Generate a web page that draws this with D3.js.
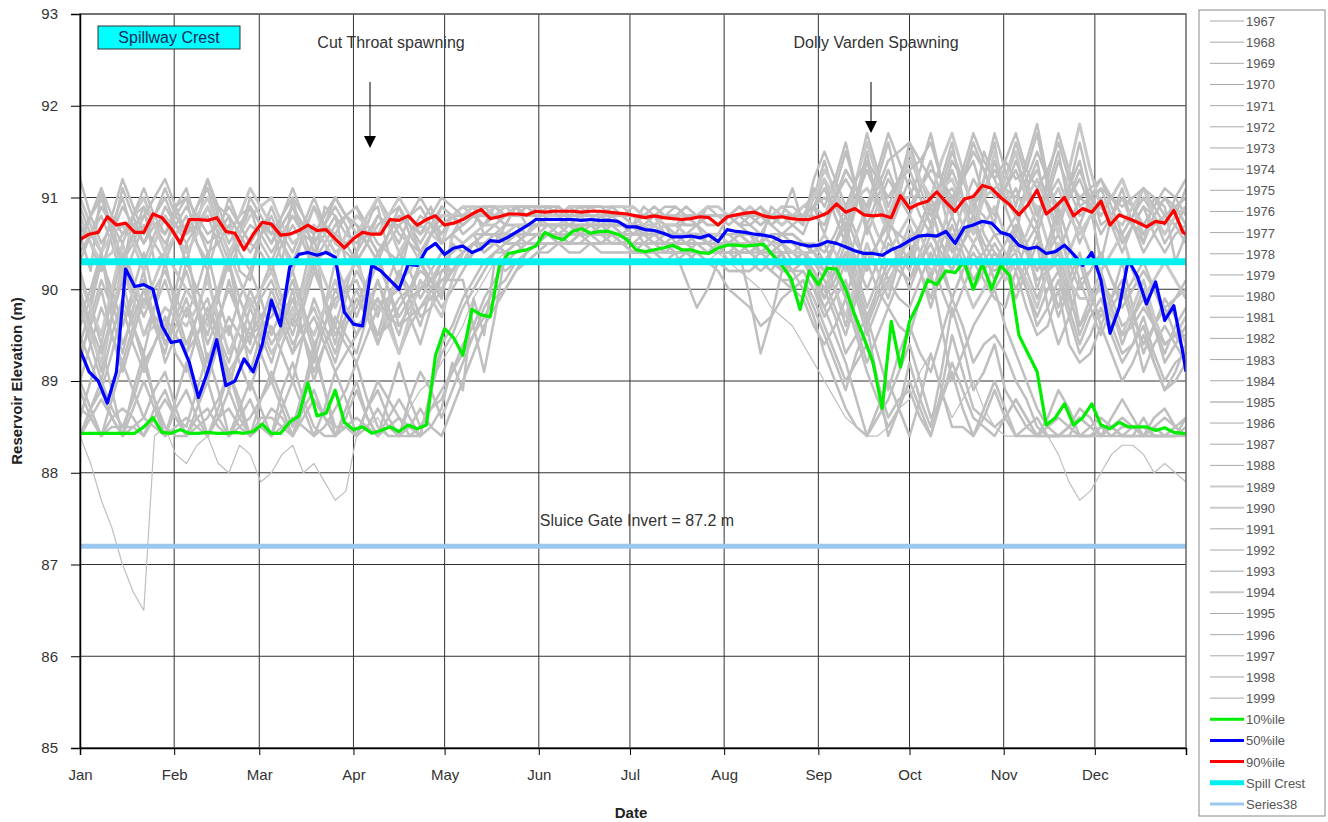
<!DOCTYPE html>
<html><head><meta charset="utf-8">
<script src="https://cdn.jsdelivr.net/npm/d3@7"></script>
<style>
body{margin:0;background:#fff;}
svg text{font-family:"Liberation Sans",Arial,sans-serif;}
</style>
</head><body>
<svg id="chart" width="1328" height="822"></svg>
<script>
// ---------- categories / ticks ----------
const monthLabels = ["Jan","Feb","Mar","Apr","May","Jun","Jul","Aug","Sep","Oct","Nov","Dec"];
const monthStartDays = [0,31,59,90,120,151,181,212,243,273,304,334];
const yTickValues = [85,86,87,88,89,90,91,92,93];
const weekDays = [0,7,14,21,28,35,42,49,56,63,70,77,84,91,98,105,112,119,126,133,140,147,154,161,168,175,182,189,196,203,210,217,224,231,238,245,252,259,266,273,280,287,294,301,308,315,322,329,336,343,350,357,364];
const midOffset = 3.5; // mid-week readings sit 3.5 days after each weekly reading
const pctDays = d3.range(0, 364, 3).concat([364]);

// ---------- yearly series: weekly readings ----------
const y1967 = [90.6,91.1,90.2,90.9,90.4, 91.0,90.3,90.8,90.1, 90.7,91.0,90.2,90.8, 90.4,90.9,90.1,90.7,90.5, 90.8,90.6,90.8,90.7, 90.8,90.9,90.8,90.8, 90.7,90.8,90.6,90.7,90.6, 90.7,90.5,90.8,90.6, 91.2,90.5,91.5,90.6, 91.3,90.7,91.6,90.8,91.2, 90.6,91.4,90.4,91.0, 90.3,91.1,90.5,90.9,90.6];
const y1968 = [88.4,87.7,87.0,86.5,88.5, 88.1,88.4,88.0,88.2, 88.0,88.3,88.1,87.7, 88.4,88.6,88.4,88.9,89.2, 89.6,90.1,90.4,90.5, 90.6,90.7,90.6,90.5, 90.5,90.4,90.5,90.3,90.4, 90.2,90.0,89.7,89.4, 89.0,88.6,88.4,88.5, 88.8,89.3,88.6,89.0,88.5, 88.4,88.6,88.2,87.7, 88.0,88.3,88.2,88.1,87.9];
const y1969 = [89.6,90.4,89.3,90.2,89.5, 90.5,89.2,90.1,89.4, 90.3,89.6,90.6,89.4, 90.2,89.7,90.4,89.9,90.3, 90.5,90.4,90.7,90.6, 90.7,90.8,90.7,90.6, 90.7,90.6,90.5,90.6,90.5, 90.6,90.4,90.5,90.3, 90.0,90.6,89.8,90.5, 90.2,90.9,90.3,91.0,90.4, 90.7,90.0,90.8,89.6, 90.2,89.4,90.0,89.2,89.6];
const y1970 = [88.4,88.9,88.4,89.3,88.5, 88.4,89.0,88.4,88.8, 88.4,89.2,88.5,88.4, 89.0,88.4,88.6,88.4,89.3, 89.8,90.2,90.5,90.4, 90.6,90.5,90.7,90.6, 90.6,90.5,90.6,90.4,90.5, 90.4,90.3,90.4,90.1, 89.5,88.9,89.6,88.4, 89.2,88.5,89.8,88.9,89.4, 88.7,88.4,88.9,88.4, 88.4,88.8,88.4,88.4,88.6];
const y1971 = [91.2,90.5,91.0,90.3,90.9, 90.6,91.1,90.4,90.9, 90.3,90.8,90.5,91.0, 90.6,90.3,90.9,90.4,90.8, 90.6,90.9,90.7,90.8, 90.9,90.8,90.9,90.8, 90.8,90.7,90.9,90.7,90.8, 90.8,90.6,90.9,90.7, 91.4,90.6,91.7,90.9, 91.5,90.8,91.3,90.6,91.7, 90.9,91.8,90.7,91.3, 90.8,91.2,90.5,91.0,90.7];
const y1972 = [90.0,89.1,90.3,89.5,90.1, 89.3,90.2,88.9,89.8, 89.2,90.0,89.0,89.7, 89.3,90.1,89.5,90.3,89.8, 90.2,90.5,90.4,90.6, 90.7,90.6,90.7,90.8, 90.7,90.8,90.6,90.7,90.5, 90.5,90.6,90.4,90.5, 90.3,89.6,90.4,89.9, 90.6,90.1,90.8,90.3,90.6, 90.2,90.7,89.8,90.4, 89.6,90.3,89.3,89.9,89.4];
const y1973 = [88.6,89.4,88.4,89.0,88.4, 89.2,88.4,88.9,88.4, 89.1,88.5,89.4,88.4, 88.9,88.4,89.2,88.5,88.8, 89.4,89.9,90.3,90.5, 90.5,90.6,90.5,90.6, 90.5,90.6,90.4,90.5,90.4, 90.4,90.5,90.3,90.2, 89.7,90.1,89.2,89.8, 89.5,90.2,89.0,89.6,90.0, 89.3,88.7,88.4,88.6, 88.4,88.5,88.4,88.7,88.4];
const y1974 = [90.8,90.2,91.1,90.5,90.8, 90.3,91.2,90.6,90.9, 90.5,90.9,90.3,90.7, 90.9,90.4,90.7,90.3,90.9, 90.7,90.8,90.8,90.9, 90.8,90.8,90.9,90.8, 90.9,90.8,90.8,90.7,90.8, 90.7,90.8,90.7,90.9, 90.6,91.3,90.8,91.6, 90.9,91.4,90.5,91.2,90.8, 91.6,90.8,91.2,90.5, 91.0,90.4,90.9,90.6,91.1];
const y1975 = [89.2,90.1,89.6,90.4,89.4, 90.0,89.5,90.3,89.1, 89.8,89.3,90.2,89.6, 90.4,89.4,89.9,90.2,90.0, 90.4,90.6,90.5,90.7, 90.7,90.7,90.8,90.7, 90.6,90.7,90.6,90.5,90.6, 90.5,90.4,90.6,90.4, 90.5,89.9,90.7,90.1, 90.4,90.9,90.2,90.7,90.1, 90.5,89.9,90.4,89.5, 90.1,89.6,89.9,89.3,89.8];
const y1976 = [89.8,89.0,89.9,89.3,90.3, 89.4,89.9,89.0,89.6, 89.0,89.7,89.2,90.0, 89.5,90.1,89.3,89.8,90.1, 90.3,90.5,90.6,90.6, 90.6,90.7,90.7,90.6, 90.6,90.5,90.6,90.6,90.4, 90.4,90.5,90.2,90.4, 89.9,90.4,89.6,90.2, 90.5,89.8,90.6,90.0,90.4, 89.9,90.5,89.4,90.1, 89.5,90.0,89.1,89.6,89.2];
const y1977 = [88.4,88.8,88.4,88.6,89.1, 88.4,88.7,88.4,89.0, 88.4,88.6,88.4,89.1, 88.4,88.7,88.4,88.5,88.9, 89.3,89.7,90.0,90.3, 90.5,90.4,90.5,90.6, 90.5,90.4,90.3,90.4,90.4, 90.3,90.2,90.4,90.0, 89.3,88.7,88.4,88.8, 89.4,88.6,89.1,88.4,88.9, 88.4,88.6,88.4,88.4, 88.5,88.4,88.4,88.6,88.4];
const y1978 = [90.5,91.0,90.3,90.8,90.6, 91.1,90.4,90.7,90.2, 90.9,90.4,91.0,90.5, 90.3,90.8,90.5,91.0,90.6, 90.7,90.9,90.8,90.8, 90.9,90.8,90.8,90.9, 90.8,90.8,90.7,90.8,90.7, 90.8,90.9,90.7,90.8, 91.1,90.5,91.4,90.7, 91.6,90.9,91.1,90.7,91.4, 90.8,91.3,90.6,91.6, 90.7,91.0,90.4,90.8,90.5];
const y1979 = [89.0,89.8,89.2,90.0,89.4, 89.9,89.1,89.6,88.9, 89.6,89.0,89.9,89.3, 90.0,89.4,90.2,89.6,90.3, 90.4,90.6,90.5,90.6, 90.7,90.6,90.6,90.7, 90.6,90.5,90.6,90.5,90.4, 90.5,90.3,90.5,90.4, 90.0,90.5,89.7,90.3, 90.1,90.7,89.9,90.5,90.2, 90.4,89.6,90.1,89.3, 89.8,89.2,89.7,89.0,89.3];
const y1980 = [90.9,90.4,91.2,90.6,91.0, 90.5,90.9,90.3,91.0, 90.6,91.1,90.4,90.8, 90.5,91.0,90.6,90.4,90.8, 90.9,90.7,90.8,90.9, 90.8,90.9,90.8,90.8, 90.8,90.9,90.8,90.8,90.7, 90.8,90.7,90.8,90.9, 90.8,91.5,90.6,91.2, 91.0,91.7,90.8,91.5,91.0, 91.3,90.7,91.7,90.9, 91.2,90.6,91.0,90.5,90.9];
const y1981 = [90.2,89.4,90.4,89.7,90.2, 89.7,90.4,89.5,90.2, 89.5,90.1,89.3,90.3, 89.7,90.3,89.6,90.0,90.4, 90.5,90.6,90.7,90.7, 90.8,90.7,90.7,90.8, 90.7,90.6,90.7,90.6,90.6, 90.6,90.5,90.6,90.5, 90.4,90.9,90.2,90.8, 90.3,91.0,90.5,90.9,90.6, 90.8,90.2,90.6,90.0, 90.4,89.8,90.2,89.7,90.0];
const y1982 = [89.0,88.4,88.7,88.4,88.9, 88.5,89.3,88.4,88.6, 89.0,88.4,88.8,88.5, 88.4,89.0,88.6,88.4,89.4, 89.9,90.3,90.4,90.6, 90.6,90.5,90.6,90.5, 90.4,90.5,90.4,90.3,90.2, 89.9,89.6,89.9,90.1, 89.6,89.0,89.4,88.6, 88.9,88.4,89.2,88.6,88.4, 88.8,88.4,88.4,88.6, 88.4,88.6,88.4,88.4,88.5];
const y1983 = [90.7,90.2,90.9,90.5,91.1, 90.6,90.8,90.2,90.7, 90.4,90.8,90.6,91.0, 90.7,90.4,90.8,90.5,90.9, 90.8,90.7,90.9,90.8, 90.8,90.8,90.9,90.8, 90.7,90.8,90.7,90.7,90.8, 90.7,90.8,90.6,90.8, 91.0,90.7,91.3,90.6, 91.2,90.7,91.5,90.9,91.3, 91.0,91.5,90.8,91.2, 90.6,91.0,90.7,91.1,90.8];
const y1984 = [89.4,90.3,89.6,90.1,89.2, 89.8,89.0,89.7,89.3, 90.0,89.4,89.8,89.2, 89.9,89.5,90.2,89.7,90.0, 90.3,90.5,90.4,90.6, 90.6,90.7,90.6,90.6, 90.6,90.5,90.5,90.6,90.4, 90.4,90.5,90.3,90.4, 90.1,89.5,90.3,89.8, 90.4,89.9,90.7,90.1,90.5, 90.0,90.6,89.7,90.3, 89.7,90.1,89.4,89.8,89.3];
const y1985 = [90.1,89.5,90.5,89.8,90.4, 90.0,89.6,90.4,89.8, 90.2,89.7,90.4,89.8, 90.3,89.8,90.1,90.4,89.9, 90.5,90.7,90.6,90.7, 90.7,90.8,90.7,90.7, 90.7,90.6,90.7,90.6,90.6, 90.6,90.4,90.6,90.5, 90.6,90.2,90.9,90.4, 90.8,90.3,91.0,90.5,90.9, 90.4,90.9,90.2,90.7, 90.2,90.6,89.9,90.3,89.9];
const y1986 = [88.7,88.4,89.2,88.6,88.4, 88.9,88.4,88.7,88.4, 88.6,88.4,89.3,88.5, 88.4,88.9,88.4,89.1,88.6, 89.2,89.8,90.1,90.4, 90.5,90.6,90.6,90.5, 90.5,90.4,90.5,90.4,90.3, 90.3,90.4,90.2,90.3, 90.0,89.3,89.7,88.9, 89.6,89.1,89.9,89.2,89.5, 89.0,88.5,88.4,88.7, 88.4,88.4,88.6,88.4,88.4];
const y1987 = [90.4,90.8,90.1,90.7,90.3, 90.8,90.2,91.0,90.5, 90.2,90.7,90.3,90.6, 90.9,90.5,90.3,90.8,90.6, 90.8,90.9,90.8,90.9, 90.9,90.8,90.8,90.9, 90.8,90.8,90.8,90.7,90.8, 90.8,90.7,90.9,90.8, 90.7,91.3,90.9,91.7, 91.1,90.6,91.4,90.9,91.6, 91.1,90.6,91.4,90.8, 91.1,90.5,90.9,90.4,90.7];
const y1988 = [89.5,88.9,89.8,89.1,89.7, 89.1,89.8,89.2,90.0, 89.4,89.9,89.1,89.6, 89.2,89.8,90.0,89.4,90.2, 90.3,90.4,90.6,90.5, 90.6,90.6,90.7,90.7, 90.6,90.6,90.5,90.5,90.5, 90.4,90.5,90.4,90.3, 89.8,90.3,89.5,90.1, 89.8,90.4,89.7,90.3,89.9, 90.2,89.5,90.0,89.2, 89.6,89.0,89.5,88.9,89.2];
const y1989 = [91.0,90.4,90.7,90.2,90.8, 90.4,90.9,90.6,91.1, 90.7,90.2,90.9,90.4, 90.6,91.0,90.4,90.7,90.5, 90.8,90.8,90.9,90.9, 90.8,90.9,90.9,90.8, 90.8,90.7,90.8,90.8,90.8, 90.9,90.8,90.7,90.9, 91.3,90.8,91.1,90.6, 91.5,91.0,91.7,90.8,91.1, 91.5,90.9,91.1,90.6, 90.9,91.2,90.6,90.8,91.0];
const y1990 = [89.9,89.2,90.2,89.5,89.8, 89.6,90.1,89.3,89.9, 89.3,89.8,89.5,90.1, 89.6,89.9,89.3,90.1,89.7, 90.4,90.5,90.6,90.6, 90.7,90.7,90.6,90.7, 90.6,90.7,90.6,90.6,90.5, 90.5,90.6,90.5,90.4, 90.2,89.7,90.5,90.0, 90.7,90.2,90.5,89.8,90.3, 90.3,89.8,90.5,89.9, 90.0,89.5,90.1,89.4,89.7];
const y1991 = [88.4,89.0,88.5,88.4,88.8, 88.4,88.6,89.1,88.4, 88.7,88.4,88.9,88.4, 88.6,88.4,88.8,88.4,88.7, 88.9,89.5,90.2,90.3, 90.4,90.5,90.5,90.4, 90.4,90.3,90.4,90.3,90.3, 90.2,90.3,90.1,90.2, 89.8,89.2,88.4,89.0, 88.4,89.3,88.5,88.4,89.0, 88.4,88.4,88.6,88.4, 88.5,88.4,88.4,88.4,88.6];
const y1992 = [90.6,91.0,90.3,90.9,90.5, 90.9,90.5,90.8,90.4, 90.8,90.3,90.9,90.6, 90.3,90.7,90.9,90.4,90.7, 90.8,90.8,90.7,90.9, 90.9,90.9,90.8,90.8, 90.8,90.8,90.8,90.8,90.7, 90.8,90.8,90.8,90.7, 90.9,91.6,90.7,91.3, 90.8,91.3,91.0,91.4,90.7, 91.2,91.7,90.9,91.4, 90.9,90.6,91.1,90.7,91.2];
const y1993 = [89.3,90.0,89.1,89.9,89.6, 90.2,89.4,90.0,89.5, 89.7,90.2,89.4,89.9, 90.1,89.5,89.8,90.3,89.9, 90.4,90.6,90.5,90.6, 90.6,90.6,90.7,90.6, 90.7,90.6,90.5,90.6,90.4, 90.4,90.4,90.5,90.3, 90.3,90.7,90.0,90.6, 90.0,90.6,90.2,90.8,90.1, 90.6,90.1,90.3,89.6, 90.1,89.5,89.8,89.4,89.5];
const y1994 = [90.8,90.3,90.6,91.0,90.4, 90.7,91.0,90.4,90.8, 91.0,90.5,90.7,90.3, 90.8,90.6,91.0,90.6,90.8, 90.9,90.8,90.9,90.8, 90.8,90.9,90.8,90.9, 90.9,90.8,90.8,90.8,90.9, 90.8,90.8,90.9,90.8, 91.2,90.8,91.6,90.8, 91.4,91.0,91.2,90.6,91.5, 90.8,91.2,90.6,91.8, 90.9,90.7,91.1,90.6,90.9];
const y1995 = [89.7,90.4,89.4,90.0,89.3, 90.3,89.7,90.3,89.6, 90.1,89.5,90.3,89.5, 89.8,90.4,89.7,90.0,90.2, 90.4,90.5,90.5,90.7, 90.7,90.7,90.6,90.7, 90.6,90.6,90.6,90.5,90.5, 90.6,90.4,90.6,90.5, 90.2,90.8,90.3,90.7, 90.5,91.0,90.4,90.8,90.3, 90.7,90.2,90.9,90.1, 90.4,89.9,90.3,89.8,90.1];
const y1996 = [88.9,88.4,88.5,89.2,88.4, 88.6,88.4,89.1,88.4, 88.4,89.0,88.4,88.7, 89.2,88.5,88.4,88.7,88.4, 89.0,89.6,90.0,90.4, 90.6,90.5,90.6,90.5, 90.4,90.4,90.3,90.4,90.3, 90.2,90.3,90.1,89.9, 89.4,89.9,89.1,88.5, 89.0,88.4,89.5,88.7,88.5, 88.8,88.4,88.4,88.4, 88.6,88.4,88.5,88.4,88.4];
const y1997 = [90.3,90.9,90.5,91.1,90.6, 91.0,90.6,90.9,90.5, 90.6,90.9,90.5,90.9, 90.4,90.8,90.7,90.9,90.5, 90.7,90.8,90.8,90.8, 90.9,90.8,90.9,90.9, 90.8,90.9,90.8,90.8,90.8, 90.9,90.8,90.8,90.8, 90.8,91.2,90.9,91.4, 91.6,91.2,90.8,91.6,91.0, 91.4,90.8,91.5,90.7, 91.1,90.8,90.6,91.0,90.6];
const y1998 = [89.9,89.3,90.1,89.2,89.7, 89.3,89.7,89.1,89.5, 89.9,89.3,89.7,89.1, 89.5,89.9,89.6,89.8,90.1, 90.1,89.1,90.4,90.5, 90.6,90.5,90.6,90.6, 90.5,90.5,90.4,89.8,90.3, 90.4,89.3,90.2,90.3, 89.9,90.4,89.6,90.3, 90.1,90.5,89.9,90.4,90.0, 90.3,89.7,90.2,89.4, 89.9,89.3,89.6,88.9,89.4];
const y1999 = [90.5,91.1,90.6,90.8,91.2, 90.6,91.2,90.5,90.9, 90.5,91.0,90.6,91.0, 90.7,90.3,90.8,90.6,91.0, 90.8,90.9,90.8,90.9, 90.9,90.8,90.8,90.8, 90.8,90.8,90.9,90.8,90.8, 90.8,90.9,90.8,90.7, 91.5,90.9,91.4,91.0, 91.3,91.6,90.9,91.7,91.2, 91.7,91.1,91.6,91.0, 91.2,90.9,91.1,90.8,91.0];

// ---------- yearly series: mid-week readings ----------
const m1967 = [90.2,90.6,90.8,90.3,90.9, 90.5,90.9,90.2,90.6, 90.3,90.5,90.9,90.3, 90.8,90.4,90.6,90.9, 90.6,90.9,90.7,90.9, 90.7,90.8,90.9,90.7,90.8, 90.9,90.6,90.8,90.5, 90.8,90.6,90.9,90.7,90.9, 90.8,91.0,90.9,91.2, 91.0,91.2,91.0,91.5, 90.9,91.1,90.8,90.7,90.9, 90.8,90.7,91.0,90.3];
const m1968 = [88.1,87.4,86.7,88.4,88.2, 88.3,88.1,88.3,87.9, 88.2,88.0,87.9,87.8, 88.5,88.4,88.7,89.0, 89.4,89.9,90.3,90.5, 90.6,90.6,90.7,90.5,90.6, 90.4,90.5,90.4,90.3, 90.3,90.1,89.8,89.6,89.2, 88.8,88.5,88.4,88.7, 89.1,88.9,88.8,88.7, 88.4,88.5,88.4,87.9,87.8, 88.2,88.3,88.0,88.0];
const m1969 = [89.9,89.7,89.8,89.6,90.0, 89.8,89.6,89.7,90.0, 89.9,90.1,89.8,89.9, 90.0,90.1,90.2,90.1, 90.4,90.6,90.5,90.7, 90.8,90.7,90.6,90.7,90.6, 90.5,90.7,90.6,90.5, 90.5,90.6,90.4,90.4,90.2, 90.3,90.2,90.1,90.4, 90.6,90.5,90.7,90.6, 90.3,90.5,90.4,90.2,89.9, 89.8,89.7,89.6,89.4];
const m1970 = [88.7,88.6,88.9,88.8,88.4, 88.7,88.6,88.6,88.5, 88.9,88.8,88.4,88.7, 88.6,88.5,88.4,88.9, 89.5,90.0,90.4,90.5, 90.5,90.6,90.6,90.7,90.5, 90.6,90.5,90.5,90.4, 90.3,90.4,90.2,90.0,89.8, 89.2,89.3,89.0,88.7, 88.8,89.1,89.4,89.1, 88.9,88.5,88.6,88.7,88.4, 88.6,88.6,88.5,88.4];
const m1971 = [90.8,90.7,90.6,90.6,90.7, 90.9,90.7,90.6,90.5, 90.6,90.6,90.7,90.8, 90.5,90.6,90.7,90.6, 90.8,90.7,90.8,90.9, 90.9,90.8,90.9,90.8,90.8, 90.8,90.8,90.8,90.9, 90.7,90.7,90.8,90.8,91.0, 91.0,91.2,91.3,91.2, 91.1,91.0,91.0,91.2, 91.3,91.4,91.2,91.0,91.0, 91.0,90.9,90.8,90.9];
const m1972 = [89.6,89.7,89.9,89.8,89.7, 89.7,89.6,89.4,89.5, 89.6,89.5,89.4,89.5, 89.7,89.8,89.9,90.0, 90.0,90.4,90.5,90.5, 90.7,90.6,90.7,90.8,90.7, 90.8,90.7,90.6,90.6, 90.5,90.5,90.5,90.4,90.4, 90.0,90.0,90.2,90.3, 90.4,90.5,90.5,90.4, 90.4,90.5,90.2,90.1,90.0, 89.9,89.8,89.6,89.7];
const m1973 = [89.0,88.9,88.7,88.7,88.8, 88.8,88.6,88.6,88.8, 88.8,88.9,88.9,88.6, 88.6,88.8,88.8,88.7, 89.1,89.6,90.1,90.4, 90.5,90.5,90.6,90.5,90.5, 90.6,90.5,90.4,90.4, 90.5,90.4,90.4,90.2,90.0, 89.9,89.6,89.5,89.6, 89.9,89.6,89.3,89.8, 89.6,89.0,88.5,88.4,88.5, 88.4,88.5,88.6,88.5];
const m1974 = [90.5,90.6,90.8,90.7,90.6, 90.7,90.9,90.8,90.7, 90.7,90.6,90.5,90.8, 90.6,90.5,90.5,90.6, 90.8,90.8,90.9,90.8, 90.8,90.9,90.8,90.9,90.8, 90.8,90.8,90.7,90.8, 90.8,90.8,90.8,90.8,90.9, 91.0,91.1,91.2,91.1, 91.1,91.0,90.9,91.0, 91.2,91.2,91.0,90.9,90.8, 90.7,90.7,90.8,90.8];
const m1975 = [89.7,89.8,90.0,89.9,89.7, 89.8,89.9,89.7,89.5, 89.6,89.8,89.9,90.0, 89.9,89.7,90.0,90.1, 90.2,90.5,90.6,90.6, 90.7,90.7,90.8,90.8,90.7, 90.7,90.6,90.6,90.5, 90.6,90.5,90.5,90.5,90.4, 90.2,90.3,90.4,90.3, 90.6,90.5,90.5,90.4, 90.3,90.2,90.2,90.0,89.8, 89.9,89.7,89.6,89.6];
const m1976 = [89.4,89.5,89.6,89.8,89.8, 89.7,89.5,89.3,89.3, 89.4,89.5,89.6,89.8, 89.8,89.7,89.6,90.0, 90.2,90.4,90.6,90.6, 90.6,90.7,90.7,90.6,90.6, 90.6,90.6,90.6,90.5, 90.4,90.5,90.4,90.3,90.2, 90.2,90.0,89.9,90.4, 90.2,90.2,90.3,90.2, 90.2,90.2,89.8,89.7,89.8, 89.8,89.6,89.4,89.4];
const m1977 = [88.6,88.6,88.5,88.9,88.7, 88.6,88.5,88.7,88.7, 88.5,88.5,88.7,88.8, 88.5,88.5,88.4,88.7, 89.1,89.5,89.9,90.2, 90.4,90.5,90.4,90.5,90.5, 90.5,90.3,90.3,90.4, 90.4,90.3,90.3,90.2,89.7, 89.0,88.5,88.6,89.1, 89.0,88.8,88.7,88.6, 88.6,88.5,88.4,88.5,88.4, 88.4,88.4,88.5,88.5];
const m1978 = [90.8,90.7,90.5,90.7,90.9, 90.7,90.5,90.4,90.6, 90.6,90.7,90.7,90.4, 90.5,90.7,90.8,90.8, 90.8,90.8,90.9,90.8, 90.8,90.9,90.8,90.8,90.8, 90.7,90.7,90.8,90.7, 90.8,90.8,90.8,90.8,90.9, 90.8,90.9,91.0,91.1, 91.2,91.0,90.9,91.0, 91.0,91.1,91.0,91.1,91.1, 90.8,90.7,90.6,90.7];
const m1979 = [89.4,89.5,89.6,89.7,89.6, 89.5,89.4,89.2,89.3, 89.3,89.5,89.6,89.7, 89.7,89.8,89.9,90.0, 90.2,90.5,90.6,90.5, 90.6,90.7,90.6,90.6,90.6, 90.6,90.5,90.5,90.4, 90.4,90.4,90.4,90.4,90.2, 90.2,90.1,90.0,90.2, 90.4,90.3,90.2,90.3, 90.3,90.0,89.8,89.7,89.5, 89.5,89.4,89.3,89.2];
const m1980 = [90.6,90.8,90.9,90.8,90.7, 90.7,90.6,90.6,90.8, 90.8,90.8,90.6,90.6, 90.7,90.8,90.5,90.6, 90.8,90.8,90.9,90.8, 90.9,90.8,90.9,90.8,90.8, 90.8,90.8,90.9,90.8, 90.8,90.8,90.8,90.8,90.9, 91.1,91.1,90.9,91.0, 91.3,91.2,91.2,91.3, 91.1,91.0,91.2,91.3,91.0, 90.9,90.8,90.8,90.7];
const m1981 = [89.8,89.9,90.0,90.0,89.9, 90.0,89.9,89.9,89.9, 89.8,89.7,89.8,90.0, 90.0,90.0,89.8,90.2, 90.4,90.6,90.6,90.7, 90.7,90.8,90.7,90.7,90.8, 90.7,90.7,90.6,90.6, 90.6,90.6,90.6,90.5,90.5, 90.6,90.6,90.5,90.5, 90.7,90.7,90.7,90.8, 90.6,90.5,90.4,90.3,90.2, 90.1,90.0,90.0,89.9];
const m1982 = [88.7,88.6,88.6,88.7,88.6, 88.9,88.9,88.5,88.8, 88.7,88.6,88.6,88.5, 88.7,88.8,88.5,88.9, 89.6,90.1,90.4,90.5, 90.6,90.6,90.5,90.6,90.5, 90.5,90.4,90.4,90.3, 90.0,89.8,89.7,90.0,89.9, 89.3,89.2,89.0,88.8, 88.6,88.8,88.9,88.5, 88.6,88.6,88.4,88.5,88.5, 88.5,88.5,88.4,88.4];
const m1983 = [90.5,90.6,90.7,90.8,90.8, 90.7,90.5,90.5,90.6, 90.6,90.7,90.8,90.8, 90.6,90.6,90.7,90.7, 90.8,90.8,90.8,90.9, 90.8,90.8,90.8,90.9,90.8, 90.8,90.7,90.7,90.8, 90.8,90.7,90.7,90.7,90.9, 90.9,91.0,91.0,90.9, 91.0,91.1,91.2,91.1, 91.1,91.2,91.2,91.0,90.9, 90.8,90.9,90.9,91.0];
const m1984 = [89.8,90.0,89.9,89.7,89.5, 89.4,89.4,89.5,89.6, 89.7,89.6,89.5,89.6, 89.7,89.9,90.0,89.8, 90.2,90.4,90.5,90.5, 90.6,90.6,90.7,90.6,90.6, 90.6,90.5,90.5,90.5, 90.4,90.4,90.4,90.3,90.3, 89.8,89.9,90.0,90.1, 90.2,90.3,90.4,90.3, 90.3,90.3,90.1,90.0,89.9, 89.9,89.7,89.6,89.5];
const m1985 = [89.8,90.0,90.1,90.1,90.2, 89.8,90.0,90.1,90.0, 89.9,90.0,90.1,90.1, 90.0,89.9,90.2,90.2, 90.6,90.6,90.7,90.7, 90.7,90.7,90.8,90.7,90.7, 90.6,90.7,90.6,90.6, 90.5,90.5,90.5,90.6,90.4, 90.4,90.6,90.6,90.6, 90.6,90.6,90.7,90.7, 90.6,90.6,90.5,90.4,90.4, 90.4,90.2,90.1,90.1];
const m1986 = [88.6,88.8,88.9,88.5,88.7, 88.6,88.6,88.5,88.6, 88.5,88.8,88.9,88.5, 88.7,88.6,88.8,88.9, 88.9,89.5,90.0,90.3, 90.5,90.5,90.6,90.6,90.5, 90.5,90.4,90.5,90.3, 90.3,90.3,90.3,90.2,90.2, 89.7,89.5,89.3,89.3, 89.3,89.5,89.6,89.4, 89.3,88.8,88.4,88.5,88.6, 88.5,88.4,88.4,88.5];
const m1987 = [90.6,90.5,90.4,90.5,90.6, 90.5,90.6,90.7,90.4, 90.5,90.5,90.4,90.8, 90.7,90.4,90.6,90.7, 90.8,90.9,90.8,90.9, 90.8,90.9,90.8,90.8,90.9, 90.8,90.8,90.7,90.8, 90.8,90.8,90.8,90.9,90.8, 91.0,91.1,91.3,91.4, 90.8,91.0,91.2,91.2, 90.9,90.8,91.0,91.1,90.9, 90.8,90.7,90.6,90.6];
const m1988 = [89.2,89.3,89.4,89.4,89.3, 89.5,89.5,89.6,89.7, 89.6,89.5,89.4,89.4, 89.5,89.9,89.7,89.8, 90.2,90.5,90.5,90.6, 90.6,90.6,90.7,90.7,90.6, 90.6,90.5,90.5,90.5, 90.5,90.4,90.4,90.4,90.1, 90.0,89.9,89.8,89.9, 90.1,90.0,90.0,90.1, 89.8,89.8,89.6,89.4,89.3, 89.3,89.2,89.2,89.0];
const m1989 = [90.7,90.6,90.5,90.5,90.6, 90.6,90.7,90.8,90.9, 90.5,90.6,90.6,90.5, 90.8,90.7,90.6,90.6, 90.8,90.9,90.9,90.9, 90.9,90.8,90.9,90.8,90.8, 90.7,90.8,90.8,90.8, 90.8,90.8,90.8,90.8,91.0, 91.1,91.0,90.9,91.0, 91.2,91.4,91.3,91.0, 91.2,91.0,90.9,90.8,90.8, 91.0,90.9,90.7,90.9];
const m1990 = [89.5,89.7,89.9,89.6,89.7, 89.8,89.7,89.6,89.6, 89.5,89.7,89.8,89.8, 89.7,89.6,89.7,89.9, 90.1,90.5,90.5,90.6, 90.7,90.7,90.6,90.7,90.7, 90.6,90.6,90.6,90.5, 90.5,90.5,90.5,90.4,90.3, 90.0,90.1,90.2,90.4, 90.4,90.3,90.1,90.0, 90.1,90.1,90.2,90.1,89.9, 89.7,89.8,89.7,89.5];
const m1991 = [88.7,88.7,88.5,88.6,88.6, 88.5,88.8,88.8,88.5, 88.6,88.7,88.6,88.5, 88.5,88.6,88.6,88.5, 89.2,89.9,90.3,90.3, 90.4,90.5,90.5,90.4,90.4, 90.4,90.3,90.4,90.3, 90.2,90.2,90.2,90.1,90.0, 89.5,88.8,88.7,88.7, 88.8,88.9,88.5,88.7, 88.7,88.4,88.5,88.5,88.4, 88.5,88.4,88.4,88.5];
const m1992 = [90.8,90.6,90.6,90.7,90.7, 90.7,90.6,90.6,90.6, 90.5,90.6,90.7,90.5, 90.5,90.8,90.6,90.6, 90.8,90.8,90.8,90.9, 90.9,90.8,90.8,90.8,90.8, 90.8,90.8,90.8,90.7, 90.8,90.8,90.7,90.8,91.1, 91.2,91.1,91.0,91.0, 91.1,91.2,91.2,91.0, 91.4,91.3,91.1,91.1,90.9, 90.7,90.8,90.9,91.0];
const m1993 = [89.6,89.5,89.5,89.7,89.9, 89.8,89.7,89.7,89.6, 89.9,89.8,89.6,90.0, 89.8,89.6,90.0,90.1, 90.5,90.5,90.6,90.6, 90.6,90.6,90.7,90.6,90.6, 90.6,90.5,90.5,90.5, 90.4,90.4,90.4,90.3,90.5, 90.5,90.3,90.3,90.3, 90.3,90.4,90.5,90.4, 90.3,90.4,90.2,89.9,89.8, 89.8,89.6,89.6,89.5];
const m1994 = [90.5,90.4,90.8,90.7,90.6, 90.8,90.7,90.6,90.9, 90.7,90.6,90.5,90.6, 90.7,90.8,90.8,90.7, 90.8,90.9,90.8,90.8, 90.9,90.8,90.9,90.8,90.9, 90.8,90.8,90.8,90.9, 90.8,90.9,90.8,90.8,91.0, 91.0,91.2,91.2,91.1, 91.2,91.1,90.9,91.0, 91.1,91.0,90.9,91.3,91.3, 90.8,90.9,90.8,90.8];
const m1995 = [90.0,89.9,89.7,89.6,89.8, 90.0,90.0,89.9,89.9, 89.8,89.9,89.9,89.7, 90.1,90.0,89.9,90.1, 90.3,90.5,90.6,90.6, 90.7,90.7,90.6,90.7,90.7, 90.6,90.6,90.5,90.5, 90.5,90.5,90.5,90.6,90.4, 90.5,90.5,90.5,90.6, 90.7,90.7,90.6,90.5, 90.5,90.4,90.5,90.5,90.2, 90.1,90.1,90.0,89.9];
const m1996 = [88.6,88.5,88.8,88.8,88.5, 88.5,88.7,88.7,88.5, 88.7,88.7,88.5,88.9, 88.8,88.4,88.5,88.5, 88.7,89.3,89.8,90.2, 90.5,90.5,90.6,90.5,90.5, 90.4,90.3,90.4,90.3, 90.2,90.2,90.2,90.0,89.6, 89.6,89.5,88.8,88.7, 88.7,88.9,89.1,88.6, 88.6,88.6,88.4,88.4,88.5, 88.5,88.5,88.4,88.4];
const m1997 = [90.6,90.7,90.8,90.8,90.8, 90.8,90.7,90.7,90.7, 90.7,90.7,90.7,90.7, 90.6,90.7,90.8,90.7, 90.6,90.8,90.8,90.8, 90.8,90.8,90.9,90.9,90.8, 90.8,90.8,90.9,90.8, 90.8,90.8,90.8,90.8,90.9, 91.0,91.0,91.1,91.5, 91.4,91.0,91.2,91.3, 91.1,91.1,91.1,90.9,91.0, 91.0,90.7,90.8,90.8];
const m1998 = [89.6,89.7,89.6,89.4,89.5, 89.5,89.4,89.3,89.7, 89.6,89.5,89.4,89.3, 89.7,89.7,89.7,89.9, 90.1,89.6,89.7,90.5, 90.5,90.5,90.6,90.6,90.5, 90.5,90.4,90.1,90.0, 90.3,89.9,89.7,90.2,90.1, 90.1,90.0,90.0,90.2, 90.3,90.2,90.2,90.2, 90.2,90.0,90.0,89.8,89.7, 89.6,89.4,89.2,89.1];
const m1999 = [90.8,90.8,90.7,91.0,90.9, 90.9,90.8,90.7,90.7, 90.8,90.8,90.8,90.8, 90.5,90.6,90.7,90.8, 90.9,90.8,90.9,90.8, 90.9,90.8,90.8,90.8,90.8, 90.8,90.9,90.8,90.8, 90.8,90.8,90.7,91.1,91.2, 91.2,91.2,91.2,91.2, 91.4,91.2,91.3,91.4, 91.4,91.3,91.3,91.2,91.1, 91.0,91.0,91.0,90.9];

// ---------- percentile series (every 3 days) ----------
const pct10 = [88.43,88.43,88.43,88.43,88.43,88.43,88.43,88.50,88.60,88.44,
88.43,88.47,88.43,88.43,88.44,88.43,88.43,88.44,88.43,88.45,
88.53,88.43,88.43,88.55,88.62,88.98,88.62,88.65,88.90,88.55,
88.47,88.50,88.43,88.46,88.50,88.45,88.52,88.48,88.52,89.28,
89.57,89.47,89.28,89.78,89.72,89.70,90.25,90.39,90.41,90.43,
90.47,90.62,90.57,90.54,90.63,90.66,90.61,90.63,90.63,90.60,
90.54,90.43,90.41,90.43,90.45,90.48,90.43,90.43,90.40,90.39,
90.45,90.48,90.48,90.47,90.48,90.49,90.37,90.26,90.12,89.78,
90.20,90.05,90.23,90.22,90.00,89.72,89.47,89.20,88.70,89.65,
89.15,89.65,89.85,90.10,90.05,90.20,90.18,90.30,90.00,90.28,
90.00,90.26,90.15,89.50,89.30,89.10,88.52,88.60,88.75,88.52,
88.60,88.75,88.52,88.48,88.55,88.50,88.50,88.50,88.46,88.49,
88.44,88.43,88.43];
const pct50 = [89.34,89.10,89.00,88.76,89.10,90.22,90.03,90.05,90.00,89.60,
89.42,89.44,89.20,88.82,89.10,89.45,88.95,89.00,89.24,89.10,
89.40,89.88,89.60,90.24,90.38,90.40,90.37,90.40,90.35,89.75,
89.62,89.60,90.26,90.20,90.10,90.00,90.27,90.26,90.43,90.50,
90.38,90.45,90.47,90.40,90.44,90.53,90.52,90.57,90.63,90.69,
90.76,90.76,90.76,90.76,90.76,90.75,90.76,90.75,90.75,90.74,
90.68,90.68,90.65,90.64,90.61,90.57,90.57,90.58,90.56,90.59,
90.52,90.65,90.63,90.62,90.60,90.59,90.57,90.52,90.52,90.49,
90.47,90.48,90.52,90.50,90.46,90.42,90.39,90.39,90.37,90.43,
90.47,90.53,90.58,90.59,90.58,90.63,90.50,90.67,90.70,90.74,
90.72,90.62,90.59,90.48,90.44,90.46,90.39,90.41,90.48,90.38,
90.26,90.40,90.10,89.52,89.80,90.32,90.14,89.84,90.08,89.66,
89.82,89.30,89.10];
const pct90 = [90.54,90.60,90.62,90.79,90.70,90.72,90.62,90.62,90.82,90.78,
90.66,90.50,90.76,90.76,90.75,90.78,90.63,90.61,90.43,90.60,
90.73,90.71,90.59,90.60,90.64,90.70,90.64,90.65,90.55,90.45,
90.55,90.62,90.60,90.60,90.76,90.75,90.80,90.70,90.76,90.80,
90.70,90.72,90.76,90.82,90.87,90.77,90.79,90.82,90.82,90.81,
90.85,90.84,90.85,90.85,90.85,90.84,90.85,90.85,90.84,90.83,
90.82,90.80,90.78,90.80,90.78,90.77,90.76,90.77,90.79,90.78,
90.70,90.79,90.81,90.83,90.84,90.80,90.78,90.79,90.77,90.76,
90.76,90.79,90.83,90.93,90.84,90.88,90.81,90.80,90.81,90.78,
91.02,90.88,90.93,90.96,91.06,90.95,90.85,90.98,91.01,91.13,
91.10,91.00,90.92,90.81,90.92,91.08,90.82,90.90,91.00,90.80,
90.88,90.84,90.96,90.70,90.81,90.77,90.73,90.68,90.74,90.72,
90.86,90.62,90.60];
const spillCrestLevel = 90.3;
const sluiceInvertLevel = 87.2;

const yearSeries = [
 ["1967",y1967,m1967],["1968",y1968,m1968],["1969",y1969,m1969],["1970",y1970,m1970],
 ["1971",y1971,m1971],["1972",y1972,m1972],["1973",y1973,m1973],["1974",y1974,m1974],
 ["1975",y1975,m1975],["1976",y1976,m1976],["1977",y1977,m1977],["1978",y1978,m1978],
 ["1979",y1979,m1979],["1980",y1980,m1980],["1981",y1981,m1981],["1982",y1982,m1982],
 ["1983",y1983,m1983],["1984",y1984,m1984],["1985",y1985,m1985],["1986",y1986,m1986],
 ["1987",y1987,m1987],["1988",y1988,m1988],["1989",y1989,m1989],["1990",y1990,m1990],
 ["1991",y1991,m1991],["1992",y1992,m1992],["1993",y1993,m1993],["1994",y1994,m1994],
 ["1995",y1995,m1995],["1996",y1996,m1996],["1997",y1997,m1997],["1998",y1998,m1998],
 ["1999",y1999,m1999]
];
const lightYears = ["1985","1989","1990","1994"];
const thinYears = ["1968"];

// ---------- layout ----------
const svg = d3.select("#chart");
const L = 80, R = 1186, T = 14, B = 748;
const x = d3.scaleLinear().domain([0, 364]).range([L, R]);
const y = d3.scaleLinear().domain([85, 93]).range([B, T]);

svg.append("defs").append("clipPath").attr("id","plotClip")
  .append("rect").attr("x",L).attr("y",T).attr("width",R-L).attr("height",B-T);

// gridlines
const grid = svg.append("g");
grid.selectAll("line.h").data(yTickValues).join("line")
  .attr("x1",L).attr("x2",R).attr("y1",d=>y(d)).attr("y2",d=>y(d))
  .attr("stroke","#333").attr("stroke-width",1);
grid.selectAll("line.v").data(monthStartDays.slice(1)).join("line")
  .attr("x1",d=>x(d)).attr("x2",d=>x(d)).attr("y1",T).attr("y2",B)
  .attr("stroke","#333").attr("stroke-width",1);

const plot = svg.append("g").attr("clip-path","url(#plotClip)");
const line = d3.line().x(d=>x(d[0])).y(d=>y(d[1]));
const pair = (days, vals) => vals.slice(0, days.length).map((v,i)=>[days[i], v]);
function yearPoints(weekly, mid){
  const pts = [];
  weekly.forEach((v,i) => {
    pts.push([weekDays[i], v]);
    if (i < mid.length && i < weekDays.length-1) pts.push([weekDays[i]+midOffset, mid[i]]);
  });
  return pts;
}

// gray yearly lines
yearSeries.forEach(([name, wk, md]) => {
  const light = lightYears.includes(name);
  const thin = thinYears.includes(name);
  plot.append("path").datum(yearPoints(wk, md)).attr("d", line)
    .attr("fill","none")
    .attr("stroke", light ? "#c8c8c8" : "#bfbfbf")
    .attr("stroke-width", thin ? 1.2 : (light ? 3 : 2.5))
    .attr("stroke-linejoin","round");
});

// percentile lines
[[pct10,"#00ee00"],[pct50,"#0000ff"],[pct90,"#ff0000"]].forEach(([vals,c]) => {
  plot.append("path").datum(pair(pctDays, vals)).attr("d", line)
    .attr("fill","none").attr("stroke",c).attr("stroke-width",3.2)
    .attr("stroke-linejoin","round");
});

// constant lines
plot.append("path").datum([[0,spillCrestLevel],[364,spillCrestLevel]]).attr("d",line)
  .attr("stroke","#00f0f0").attr("stroke-width",7).attr("fill","none");
plot.append("path").datum([[0,sluiceInvertLevel],[364,sluiceInvertLevel]]).attr("d",line)
  .attr("stroke","#9cc8f0").attr("stroke-width",5).attr("fill","none");

// plot border
svg.append("rect").attr("x",L).attr("y",T).attr("width",R-L).attr("height",B-T)
  .attr("fill","none").attr("stroke","#666").attr("stroke-width",1.5);

// axes
const yAxis = d3.axisLeft(y).tickValues(yTickValues).tickFormat(d3.format("d")).tickSize(9).tickPadding(13);
const gy = svg.append("g").attr("transform",`translate(${L},0)`).call(yAxis);
gy.select(".domain").attr("stroke","#000").attr("stroke-width",1.5);
gy.selectAll(".tick line").attr("stroke","#000");
gy.selectAll(".tick text").attr("font-size",15).attr("fill","#333")
  .attr("font-family","'Liberation Sans',Arial,sans-serif");

const xAxis = d3.axisBottom(x).tickValues(monthStartDays).tickFormat((d,i)=>monthLabels[i]).tickSize(7).tickPadding(14);
const gx = svg.append("g").attr("transform",`translate(0,${B})`).call(xAxis);
gx.select(".domain").attr("stroke","#000").attr("stroke-width",1.5);
gx.selectAll(".tick line").attr("stroke","#000");
gx.selectAll(".tick text").attr("font-size",15).attr("fill","#333")
  .attr("font-family","'Liberation Sans',Arial,sans-serif");

// axis titles
svg.append("text").attr("x",631).attr("y",818).attr("text-anchor","middle")
  .attr("font-size",15).attr("font-weight","bold").attr("fill","#222").text("Date");
svg.append("text").attr("transform","translate(22,381) rotate(-90)").attr("text-anchor","middle")
  .attr("font-size",15).attr("font-weight","bold").attr("fill","#222").text("Reservoir Elevation (m)");

// annotations
svg.append("rect").attr("x",98).attr("y",26).attr("width",142).attr("height",23)
  .attr("fill","#00ffff").attr("stroke","#333").attr("stroke-width",1);
svg.append("text").attr("x",169).attr("y",43).attr("text-anchor","middle")
  .attr("font-size",16).attr("fill","#1a2a5a").text("Spillway Crest");
svg.append("text").attr("x",391).attr("y",48).attr("text-anchor","middle")
  .attr("font-size",16).attr("fill","#333").text("Cut Throat spawning");
svg.append("text").attr("x",876).attr("y",48).attr("text-anchor","middle")
  .attr("font-size",16).attr("fill","#333").text("Dolly Varden Spawning");
svg.append("text").attr("x",637).attr("y",526).attr("text-anchor","middle")
  .attr("font-size",16).attr("fill","#333").text("Sluice Gate Invert = 87.2 m");

function arrow(ax, y0, y1){
  svg.append("line").attr("x1",ax).attr("x2",ax).attr("y1",y0).attr("y2",y1-10)
    .attr("stroke","#000").attr("stroke-width",1);
  svg.append("path").attr("d",`M${ax-6},${y1-12}L${ax+6},${y1-12}L${ax},${y1}Z`).attr("fill","#000");
}
arrow(370, 82, 148);
arrow(871, 82, 133);

// legend
const legendItems = yearSeries.map(([n]) => ({name:n, color: lightYears.includes(n) ? "#cacaca" : "#a8a8a8", w: lightYears.includes(n) ? 2 : 1}))
  .concat([
    {name:"10%ile", color:"#00ee00", w:3},
    {name:"50%ile", color:"#0000ff", w:3},
    {name:"90%ile", color:"#ff0000", w:3},
    {name:"Spill Crest", color:"#00f0f0", w:5},
    {name:"Series38", color:"#9cc8f0", w:3}
  ]);
svg.append("rect").attr("x",1199).attr("y",10).attr("width",126).attr("height",806)
  .attr("fill","#fff").attr("stroke","#888").attr("stroke-width",1);
const lg = svg.append("g");
const step = 21.16;
legendItems.forEach((it,i) => {
  const ly = 21 + i*step;
  lg.append("line").attr("x1",1210).attr("x2",1244).attr("y1",ly).attr("y2",ly)
    .attr("stroke",it.color).attr("stroke-width",it.w);
  lg.append("text").attr("x",1246).attr("y",ly+5).attr("font-size",13).attr("fill","#555").text(it.name);
});
</script>
</body></html>
